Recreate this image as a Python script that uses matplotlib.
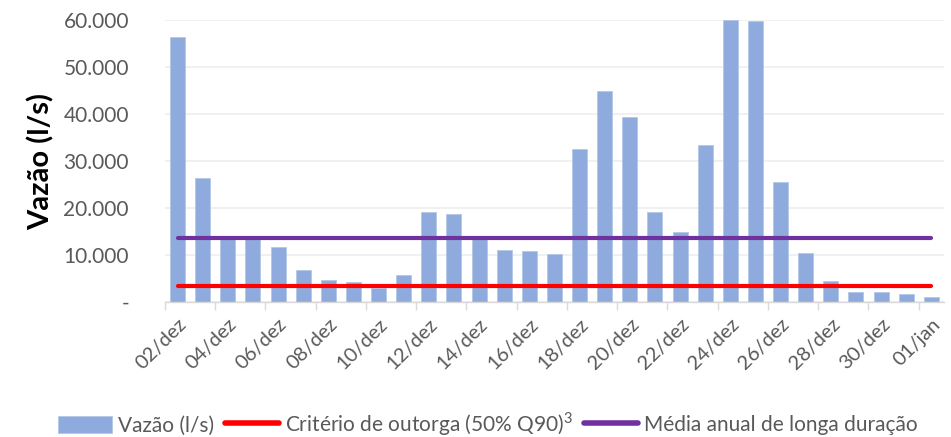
import matplotlib
matplotlib.use('Agg')
import matplotlib.pyplot as plt
import numpy as np

plt.rcParams['font.family'] = ['Lato', 'DejaVu Sans']
plt.rcParams['mathtext.fontset'] = 'custom'
plt.rcParams['mathtext.rm'] = 'Lato'

dias = ['02/dez', '03/dez', '04/dez', '05/dez', '06/dez', '07/dez', '08/dez', '09/dez',
        '10/dez', '11/dez', '12/dez', '13/dez', '14/dez', '15/dez', '16/dez', '17/dez',
        '18/dez', '19/dez', '20/dez', '21/dez', '22/dez', '23/dez', '24/dez', '25/dez',
        '26/dez', '27/dez', '28/dez', '29/dez', '30/dez', '31/dez', '01/jan']
vazao = [56300, 26400, 13800, 13900, 11700, 6750, 4760, 4190,
         3000, 5700, 19200, 18700, 13900, 11000, 10900, 10300,
         32500, 45000, 39300, 19200, 14800, 33500, 60000, 59800,
         25500, 10400, 4400, 2200, 2060, 1700, 1140]
criterio = 3340
media = 13700

cinza = '#595959'

fig = plt.figure(figsize=(9.51, 4.37), dpi=100)
ax = fig.add_axes([0.1735, 0.309, 0.819, 0.645])

x = np.arange(len(dias))
barras = ax.bar(x, vazao, width=0.6, color='#8FAADC', edgecolor='#B4C7E7', linewidth=0.6,
                label='Vazão (l/s)', zorder=2)
l1, = ax.plot(x, [criterio] * len(x), color='#FF0000', lw=3, solid_capstyle='round',
              label='Critério de outorga (50% Q90)$^{3}$', zorder=3)
l2, = ax.plot(x, [media] * len(x), color='#7030A0', lw=3, solid_capstyle='round',
              label='Média anual de longa duração', zorder=3)

ax.set_xlim(-0.5, 30.5)
ax.set_ylim(0, 60000)
yt = np.arange(0, 60001, 10000)
ax.set_yticks(yt)
ax.set_yticklabels(['-'] + ['{:,}'.format(v).replace(',', '.') for v in yt[1:]])
ax.tick_params(axis='y', length=0, labelsize=15, labelcolor=cinza, pad=26)
ax.grid(axis='y', color='#EDEDED', lw=1.2, zorder=0)

ax.set_xticks(x[::2])
ax.set_xticklabels(dias[::2], rotation=45, ha='right', rotation_mode='anchor')
ax.set_xticks(np.arange(-0.5, 30, 2), minor=True)
ax.tick_params(axis='x', which='major', length=0, labelsize=14.5, labelcolor=cinza, pad=10)
ax.tick_params(axis='x', which='minor', length=6, color='#D9D9D9', width=1)

for s in ['left', 'right', 'top']:
    ax.spines[s].set_visible(False)
ax.spines['bottom'].set_color('#D9D9D9')
ax.spines['bottom'].set_linewidth(1)

ax.set_ylabel('Vazão (l/s)', fontsize=21, fontweight='bold', labelpad=6)

leg = fig.legend([barras, l1, l2], [barras.get_label(), l1.get_label(), l2.get_label()],
                 loc='lower center', bbox_to_anchor=(0.513, -0.045), ncol=3, frameon=False,
                 fontsize=15, handlelength=2.6, handleheight=0.9, handletextpad=0.3,
                 columnspacing=0.5, labelcolor=cinza)
for h in leg.legend_handles[1:]:
    h.set_linewidth(4)

fig.savefig('out.png', dpi=100)
